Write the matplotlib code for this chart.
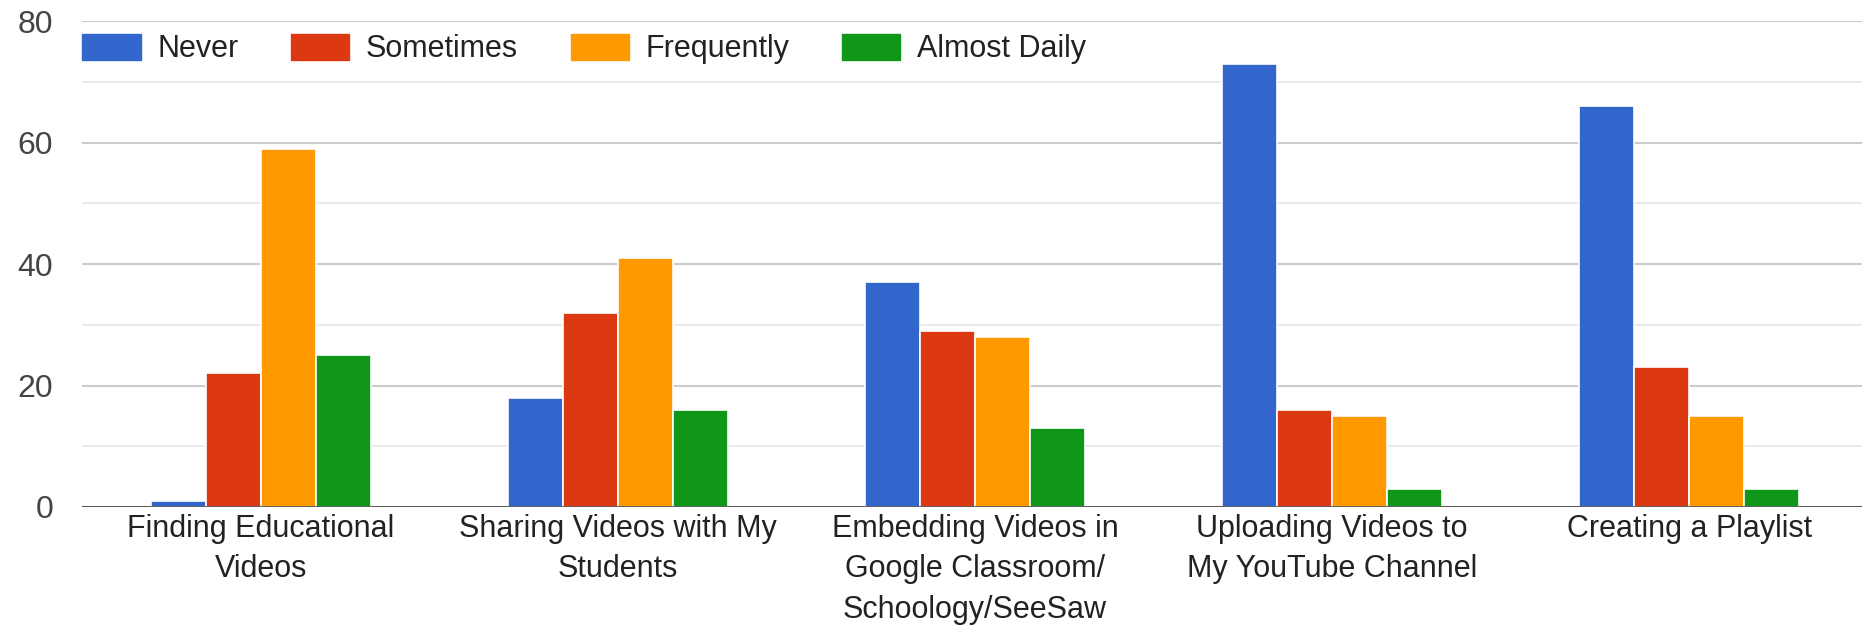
import matplotlib
matplotlib.use("Agg")
import matplotlib.pyplot as plt
import numpy as np
from matplotlib.patches import Patch

categories = ["Finding Educational\nVideos", "Sharing Videos with My\nStudents",
              "Embedding Videos in\nGoogle Classroom/\nSchoology/SeeSaw",
              "Uploading Videos to\nMy YouTube Channel", "Creating a Playlist"]
series_names = ["Never", "Sometimes", "Frequently", "Almost Daily"]
never = [1, 18, 37, 73, 66]
sometimes = [22, 32, 29, 16, 23]
frequently = [59, 41, 28, 15, 15]
almost_daily = [25, 16, 13, 3, 3]
y_ticks = [0, 20, 40, 60, 80]

colors = ["#3366cc", "#dc3912", "#ff9900", "#109618"]
plt.rcParams['font.family'] = ['Liberation Sans', 'DejaVu Sans']

fig = plt.figure(figsize=(18.62, 6.29), dpi=100)
ax = fig.add_axes([0.0443, 0.194, 0.9587, 0.772])

x = np.arange(len(categories))
w = 0.154
all_series = [never, sometimes, frequently, almost_daily]
for i, (vals, c) in enumerate(zip(all_series, colors)):
    ax.bar(x + (i - 1.5) * w, vals, width=w, color=c, edgecolor="white", linewidth=1.2, zorder=3)

ax.set_xlim(-0.5, len(categories) - 0.5)
ax.set_ylim(0, 80)
ax.set_yticks(y_ticks)
ax.set_yticks([10, 30, 50, 70], minor=True)
ax.grid(axis="y", which="major", color="#cccccc", linewidth=1.5, zorder=0)
ax.grid(axis="y", which="minor", color="#ebebeb", linewidth=1.5, zorder=0)
ax.axhline(0, color="#333333", linewidth=1.8, zorder=4)
for s in ax.spines.values():
    s.set_visible(False)
ax.set_xticks(x)
ax.set_xticklabels(categories, fontsize=22, color="#222222", linespacing=1.45)
ax.tick_params(axis="x", length=0, pad=5)
ax.tick_params(axis="y", which="both", length=0, pad=21, labelsize=23, labelcolor="#444444")

handles = [Patch(facecolor=c, edgecolor=c) for c in colors]
ax.legend(handles, series_names, ncol=4, loc="center left", bbox_to_anchor=(0.0, 0.943),
          frameon=False, fontsize=22, handlelength=1.9, handleheight=0.95,
          handletextpad=0.55, columnspacing=1.72, labelcolor="#222222",
          borderpad=0, borderaxespad=0)

fig.savefig("out.png", dpi=100, facecolor="white")
